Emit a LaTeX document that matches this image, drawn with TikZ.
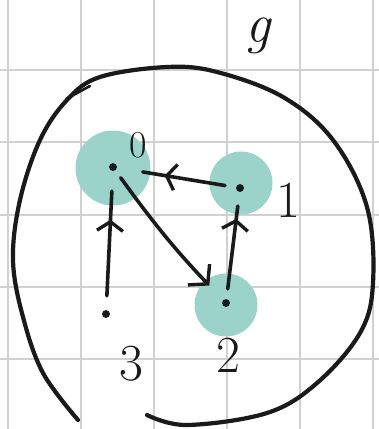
\documentclass[tikz,border=0pt]{standalone}
\usepackage{fontspec}
\usepackage{tikz}
\usetikzlibrary{arrows.meta,decorations.markings}
\definecolor{gridgray}{RGB}{208,208,208}
\definecolor{tealfill}{RGB}{155,211,202}
\definecolor{ink}{RGB}{26,26,26}

\begin{document}
\begin{tikzpicture}[x=1pt, y=-1pt,
    pt/.style={circle, fill=ink, inner sep=2.8pt},
    halo/.style={circle, fill=tealfill, inner sep=0pt},
    lbl/.style={text=ink, inner sep=0pt, font=\fontsize{52}{56}\selectfont},
    edge/.style={ink, line width=3.6pt, line cap=round},
    midarrow/.style={postaction={decorate}, decoration={markings,
      mark=at position #1 with {\arrow{Straight Barb[length=9pt, width=26pt, line width=3.4pt]}}}}]
  \useasboundingbox (0,0) rectangle (379,429);
  % grid paper
  \foreach \gx in {8,81,154,227,300,373}
    \draw[gridgray, line width=1.8pt] (\gx,0) -- (\gx,429);
  \foreach \gy in {70,142.3,214.6,286.9,359.2}
    \draw[gridgray, line width=1.8pt] (0,\gy) -- (379,\gy);
  % shaded vertices
  \node[halo, minimum size=75pt] (h0) at (113,168) {};
  \node[halo, minimum size=63pt] (h1) at (241,183) {};
  \node[halo, minimum size=63pt] (h2) at (226,305) {};
  % the loop round the graph
  \draw[ink, line width=4.2pt, line cap=round] plot[smooth, tension=0.6] coordinates {
    (147,415) (187,425) (267,413) (317,383) (360,333) (373,283) (367,207)
    (333,140) (283,97) (217,72) (167,67) (100,77) (67,100) (40,140)
    (20,200) (13,260) (23,317) (43,373) (78,420)};
  \draw[ink, line width=2.6pt, line cap=round] (66,99) -- (90,86);
  % vertices
  \node[pt] (v0) at (113,167) {};
  \node[pt] (v1) at (240,188) {};
  \node[pt] (v2) at (226,303) {};
  \node[pt] (v3) at (106,314) {};
  % edges
  \draw[edge, midarrow=0.6, shorten <=11pt, shorten >=26pt] (v1) -- (v0);
  \draw[edge, midarrow=0.65, shorten <=14pt, shorten >=20pt] (v3) -- (v0);
  \draw[edge, midarrow=0.75, shorten <=10pt, shorten >=14pt] (v2) -- (v1);
  \draw[edge, -{Straight Barb[length=13pt, width=30pt, line width=3.4pt]},
    shorten <=9pt, shorten >=20pt] (v0) to[bend right=4] (v2);
  % labels
  \node[lbl, font=\fontsize{38}{40}\selectfont] (l0) at (138,145) {0};
  \node[lbl] (l1) at (288,200) {1};
  \node[lbl] (l2) at (228,355) {2};
  \node[lbl] (l3) at (131,364) {3};
  \node[lbl, font=\fontsize{56}{60}\selectfont\itshape] (lg) at (258,36) {g};
\end{tikzpicture}
\end{document}
